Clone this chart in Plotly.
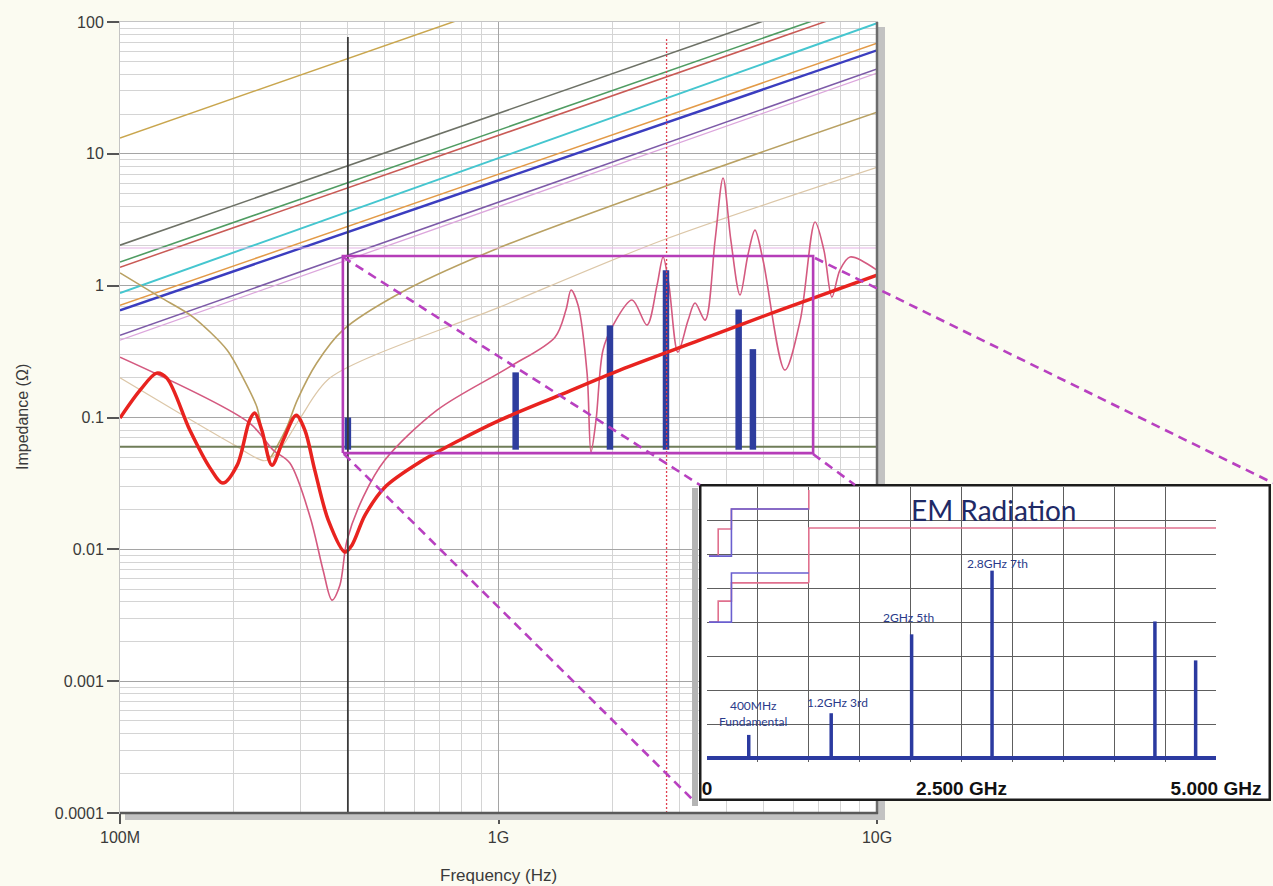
import plotly.graph_objects as go

# ---------------- data ----------------
# straight inductive-impedance lines: value at 100 MHz and at 10 GHz
ind_z_100M = [13.2, 2.03, 1.51, 1.38, 0.88, 0.71, 0.65, 0.42, 0.386]
ind_z_10G = [1320, 203, 151, 138, 98, 69, 61, 44, 41]
ind_f = [1.0e8, 1.0e10]

# capacitor-like resonance curve (tan)
tan_f = [1.0e8, 1.276e8, 1.56e8, 1.92e8, 2.11e8, 2.30e8, 2.39e8, 2.49e8, 2.61e8,
         2.76e8, 2.94e8, 3.31e8, 3.88e8, 5.5e8, 1.0e9, 3.0e9, 1.0e10]
tan_z = [1.25, 0.818, 0.578, 0.324, 0.202, 0.120, 0.071, 0.050, 0.0618,
         0.0845, 0.1355, 0.259, 0.46, 0.88, 1.93, 6.2, 20.7]

# faint light-tan resonance curve
lt_f = [1.0e8, 1.5e8, 2.0e8, 2.41e8, 2.62e8, 3.0e8, 3.59e8, 1.01e9, 2.7e9, 1.0e10]
lt_z = [0.20, 0.10, 0.062, 0.047, 0.055, 0.10, 0.20, 0.69, 2.2, 7.9]

# pink impedance curve (bare board)
pink_f = [1.0e8, 2.2e8, 2.54e8, 2.81e8, 3.18e8, 3.44e8, 3.63e8, 3.81e8, 3.98e8,
          4.39e8, 5.01e8, 6.88e8, 1.067e9, 1.41e9, 1.507e9, 1.555e9, 1.622e9,
          1.714e9, 1.755e9, 1.81e9, 1.888e9, 2.008e9, 2.254e9, 2.468e9, 2.624e9,
          2.722e9, 2.82e9, 2.978e9, 3.17e9, 3.305e9, 3.515e9, 3.735e9, 3.92e9,
          4.11e9, 4.345e9, 4.56e9, 4.76e9, 5.0e9, 5.71e9, 6.27e9, 6.86e9, 7.24e9,
          7.6e9, 7.98e9, 8.49e9, 1.0e10]
pink_z = [0.287, 0.0907, 0.0566, 0.0451, 0.01754, 0.00695, 0.00412, 0.00535, 0.01175,
          0.0249, 0.0475, 0.1138, 0.241, 0.407, 0.653, 0.927, 0.713,
          0.217, 0.0546, 0.0955, 0.324, 0.502, 0.778, 0.502, 1.01,
          1.65, 1.01, 0.313, 0.548, 0.738, 0.548, 2.22, 6.55,
          2.22, 0.849, 1.71, 2.64, 1.56, 0.229, 0.548, 3.04, 1.86,
          0.818, 1.31, 1.65, 1.31]

# red impedance curve (with decoupling)
red_f = [1.0e8, 1.13e8, 1.25e8, 1.33e8, 1.53e8, 1.73e8, 1.87e8, 2.04e8, 2.2e8,
         2.27e8, 2.37e8, 2.52e8, 2.7e8, 2.92e8, 3.08e8, 3.27e8, 3.55e8, 3.93e8,
         4.1e8, 4.44e8, 5.01e8, 6.2e8, 7.91e8, 1.009e9, 1.452e9, 2.093e9, 3.4e9,
         5.54e9, 1.0e10]
red_z = [0.099, 0.161, 0.217, 0.199, 0.080, 0.0413, 0.0318, 0.0435, 0.0955,
         0.108, 0.080, 0.0435, 0.0675, 0.104, 0.080, 0.0399, 0.01667, 0.00953,
         0.01076, 0.01815, 0.0296, 0.0459, 0.0675, 0.0955, 0.148, 0.229, 0.386,
         0.653, 1.20]

# harmonic bars in the main chart
bar_f = [4.0e8, 1.11e9, 1.97e9, 2.77e9, 4.31e9, 4.7e9]
bar_top = [0.10, 0.22, 0.50, 1.31, 0.66, 0.33]
bar_base = 0.057

target_z = 0.06          # target impedance line
limit_z = 1.93           # faint upper line
marker_black_f = 4.0e8   # fundamental cursor
marker_red_f = 2.78e9    # 7th harmonic cursor
cursor_top_z = 77

zoom_f = [3.88e8, 6.78e9]
zoom_z = [0.0537, 1.68]

# inset: EM radiation spectrum
em_f_ghz = [0.41, 1.22, 2.01, 2.80, 4.40, 4.80]
em_level = [0.68, 1.32, 3.65, 5.53, 4.03, 2.88]
em_labels = ["400MHz<br>Fundamental", "1.2GHz 3rd", "2GHz 5th", "2.8GHz 7th"]
em_label_x = [0.45, 1.28, 1.98, 2.85]
em_label_y = [1.30, 1.65, 4.16, 5.75]
em_span_ghz = [0.0, 5.0]

wave_pink_x = [0.02, 0.11, 0.11, 0.24, 0.24, 1.0, 1.0, None,
               1.0, 1.0, 5.0, None,
               0.02, 0.11, 0.11, 0.24, 0.24, 1.0]
wave_pink_y = [5.96, 5.96, 6.76, 6.76, 7.35, 7.35, 7.91, None,
               5.17, 6.79, 6.79, None,
               4.01, 4.01, 4.63, 4.63, 5.17, 5.17]
wave_blue_x = [0.02, 0.24, 0.24, 1.0, None, 0.02, 0.24, 0.24, 1.0]
wave_blue_y = [5.96, 5.96, 7.35, 7.35, None, 4.01, 4.01, 5.46, 5.46]

y_ticks = [1e-4, 1e-3, 1e-2, 1e-1, 1, 10, 100]
y_ticktext = ["0.0001", "0.001", "0.01", "0.1", "1", "10", "100"]
x_ticks = [1e8, 1e9, 1e10]
x_ticktext = ["100M", "1G", "10G"]

# ---------------- styles ----------------
ind_colors = ["#c9a64e", "#6d7166", "#4f9c62", "#c95a55", "#45c6cf",
              "#e39a47", "#3b3dbf", "#7d5aa8", "#dca6dc"]
ind_widths = [1.5, 1.6, 1.6, 1.5, 2.0, 1.5, 2.4, 1.6, 1.3]

W, H = 1273, 886
ML, MT, MB = 120, 22, 73
PW, PH = W - ML, H - MT - MB


def fx(px):
    return (px - ML) / PW


def fy(py):
    return (H - MB - py) / PH


fig = go.Figure()

for z0, z1, c, w in zip(ind_z_100M, ind_z_10G, ind_colors, ind_widths):
    fig.add_trace(go.Scatter(x=ind_f, y=[z0, z1], mode="lines",
                             line=dict(color=c, width=w)))

fig.add_trace(go.Scatter(x=lt_f, y=lt_z, mode="lines",
                         line=dict(color="#dcc7a8", width=1.2, shape="spline", smoothing=0.8)))
fig.add_trace(go.Scatter(x=tan_f, y=tan_z, mode="lines",
                         line=dict(color="#b9a163", width=1.6, shape="spline", smoothing=0.8)))
fig.add_trace(go.Scatter(x=[1e8, 1e10], y=[target_z, target_z], mode="lines",
                         line=dict(color="#6f7d58", width=1.8)))
fig.add_trace(go.Scatter(x=[1e8, 1e10], y=[limit_z, limit_z], mode="lines",
                         line=dict(color="#e6b3e6", width=1.2)))
fig.add_trace(go.Scatter(x=pink_f, y=pink_z, mode="lines",
                         line=dict(color="#d45a80", width=1.6, shape="spline", smoothing=0.9)))

bx, by = [], []
for f, t in zip(bar_f, bar_top):
    bx += [f, f, None]
    by += [bar_base, t, None]
fig.add_trace(go.Scatter(x=bx, y=by, mode="lines", line=dict(color="#2e3d9e", width=6.5)))

fig.add_trace(go.Scatter(x=red_f, y=red_z, mode="lines",
                         line=dict(color="#e8231f", width=3.5, shape="spline", smoothing=0.9)))

fig.add_trace(go.Scatter(x=[marker_black_f, marker_black_f], y=[1e-4, cursor_top_z], mode="lines",
                         line=dict(color="#3a3a3a", width=1.8)))
fig.add_trace(go.Scatter(x=[marker_red_f, marker_red_f], y=[1e-4, cursor_top_z], mode="lines",
                         line=dict(color="#e04050", width=1.3, dash="2px,2px")))

fig.add_trace(go.Scatter(x=[zoom_f[0], zoom_f[1], zoom_f[1], zoom_f[0], zoom_f[0]],
                         y=[zoom_z[0], zoom_z[0], zoom_z[1], zoom_z[1], zoom_z[0]],
                         mode="lines", line=dict(color="#b53db8", width=2.6)))

# inset background box (subplot 2)
fig.add_trace(go.Scatter(x=[0, 1, 1, 0, 0], y=[0, 0, 1, 1, 0], mode="lines",
                         fill="toself", fillcolor="white",
                         line=dict(color="#1c1c1c", width=5),
                         xaxis="x2", yaxis="y2"))

# inset content (subplot 3)
fig.add_trace(go.Scatter(x=wave_pink_x, y=wave_pink_y, mode="lines",
                         line=dict(color="#e0708e", width=1.6), xaxis="x3", yaxis="y3"))
fig.add_trace(go.Scatter(x=wave_blue_x, y=wave_blue_y, mode="lines",
                         line=dict(color="#6a5fcf", width=1.6), xaxis="x3", yaxis="y3"))
sx, sy = [], []
for f, l in zip(em_f_ghz, em_level):
    sx += [f, f, None]
    sy += [0, l, None]
fig.add_trace(go.Scatter(x=sx, y=sy, mode="lines", line=dict(color="#2b3aa0", width=3.5),
                         xaxis="x3", yaxis="y3"))
fig.add_trace(go.Scatter(x=em_span_ghz, y=[0, 0], mode="lines",
                         line=dict(color="#2b3aa0", width=4), xaxis="x3", yaxis="y3"))

tickfont = dict(family="Liberation Sans, Arial", size=16, color="#3a3a3a")
minor_x = [m * 10 ** e for e in (8, 9) for m in range(2, 10)]
minor_y = [m * 10.0 ** e for e in range(-4, 2) for m in range(2, 10)]

main_dom_x = [0, fx(877)]

fig.update_layout(
    width=W, height=H, autosize=False,
    margin=dict(l=ML, r=0, t=MT, b=MB, autoexpand=False),
    paper_bgcolor="#fbfbf1", plot_bgcolor="white",
    showlegend=False,
    xaxis=dict(type="log", range=[8, 10], domain=main_dom_x, anchor="y", automargin=False,
               tickvals=x_ticks, ticktext=x_ticktext, ticks="outside", ticklen=10,
               tickwidth=1.5, tickcolor="#555", tickfont=tickfont,
               showgrid=True, gridcolor="#a5a5a5", gridwidth=1,
               minor=dict(tickvals=minor_x, showgrid=True, gridcolor="#d4d4d4",
                          gridwidth=1, ticks=""),
               showline=True, linecolor="#c4c4c4", linewidth=1, mirror=True,
               zeroline=False),
    yaxis=dict(type="log", range=[-4, 2], domain=[0, 1], anchor="x", automargin=False,
               tickvals=y_ticks, ticktext=y_ticktext, ticks="outside", ticklen=12,
               tickwidth=1.5, tickcolor="#555", tickfont=tickfont,
               showgrid=True, gridcolor="#a5a5a5", gridwidth=1,
               minor=dict(tickvals=minor_y, showgrid=True, gridcolor="#d4d4d4",
                          gridwidth=1, ticks=""),
               showline=True, linecolor="#c4c4c4", linewidth=1, mirror=True,
               zeroline=False),
    xaxis2=dict(domain=[fx(699), fx(1271)], range=[0, 1], anchor="y2", automargin=False,
                visible=False, fixedrange=True),
    yaxis2=dict(domain=[fy(801), fy(484)], range=[0, 1], anchor="x2", automargin=False,
                visible=False, fixedrange=True),
    xaxis3=dict(domain=[fx(707), fx(1216)], range=em_span_ghz, anchor="y3", automargin=False,
                tickvals=[0, 2.5, 5], ticktext=["0", "2.500 GHz", "5.000 GHz"],
                ticks="", ticklabelstandoff=13,
                tickfont=dict(family="Liberation Sans, Arial", size=19, color="#111111",
                              weight="bold"),
                showgrid=True, gridcolor="#5e5e5e", gridwidth=1.3,
                minor=dict(dtick=0.5, showgrid=True, gridcolor="#5e5e5e", gridwidth=1.3),
                zeroline=False, showline=False),
    yaxis3=dict(domain=[fy(762), fy(487)], range=[-0.12, 8], anchor="x3", automargin=False,
                tickvals=list(range(0, 9)), showticklabels=False, ticks="",
                showgrid=True, gridcolor="#5e5e5e", gridwidth=1.3,
                zeroline=False, showline=False),
)

shapes = []
# main plot right / bottom dark borders with shadow
shapes.append(dict(type="rect", xref="paper", yref="paper", x0=fx(878), x1=fx(885),
                   y0=fy(484), y1=fy(27), fillcolor="#c2c2c2", line=dict(width=0), layer="above"))
shapes.append(dict(type="rect", xref="paper", yref="paper", x0=fx(878), x1=fx(885),
                   y0=fy(819), y1=fy(801), fillcolor="#c2c2c2", line=dict(width=0), layer="above"))
shapes.append(dict(type="rect", xref="paper", yref="paper", x0=fx(125), x1=fx(885),
                   y0=fy(820), y1=fy(814), fillcolor="#c2c2c2", line=dict(width=0), layer="above"))
shapes.append(dict(type="line", xref="paper", yref="paper", x0=fx(877), x1=fx(877),
                   y0=fy(484), y1=fy(22), line=dict(color="#6c6c6c", width=2.5), layer="above"))
shapes.append(dict(type="line", xref="paper", yref="paper", x0=fx(877), x1=fx(877),
                   y0=fy(814), y1=fy(801), line=dict(color="#6c6c6c", width=2.5), layer="above"))
shapes.append(dict(type="line", xref="paper", yref="paper", x0=fx(120), x1=fx(878),
                   y0=fy(813), y1=fy(813), line=dict(color="#5a5a5a", width=2.5), layer="above"))
# inset left shadow strip
shapes.append(dict(type="rect", xref="paper", yref="paper", x0=fx(692), x1=fx(698),
                   y0=fy(806), y1=fy(488), fillcolor="#b4b4b4", line=dict(width=0), layer="above"))
# dashed connectors from zoom rectangle to inset
dash = dict(color="#b840c0", width=2.6, dash="9px,6px")
for (x0, y0, x1, y1) in [(343, 257, 700, 485), (344, 454, 694, 801),
                         (815, 258, 1273, 483), (813, 454, 855, 485)]:
    shapes.append(dict(type="line", xref="paper", yref="paper", x0=fx(x0), y0=fy(y0),
                       x1=fx(x1), y1=fy(y1), line=dash, layer="above"))
fig.update_layout(shapes=shapes)

ann = [
    dict(text="Impedance (\u03a9)", xref="paper", yref="paper", x=fx(22), y=fy(417),
         textangle=-90, showarrow=False, xanchor="center", yanchor="middle",
         font=dict(family="Liberation Sans, Arial", size=16, color="#3a3a3a")),
    dict(text="Frequency (Hz)", xref="paper", yref="paper", x=fx(498), y=fy(876),
         showarrow=False, xanchor="center", yanchor="middle",
         font=dict(family="Liberation Sans, Arial", size=17, color="#3a3a3a")),
    dict(text="EM Radiation", xref="paper", yref="paper", x=fx(993), y=fy(510),
         showarrow=False, xanchor="center", yanchor="middle",
         font=dict(family="Lato, Open Sans", size=28, color="#1f2a66")),
]
for t, x, y in zip(em_labels, em_label_x, em_label_y):
    ann.append(dict(text=t, xref="x3", yref="y3", x=x, y=y, showarrow=False,
                    xanchor="center", yanchor="middle",
                    font=dict(family="Lato, Open Sans", size=12, color="#2a3a8a")))
fig.update_layout(annotations=ann)

fig.write_html(
    "out.html",
    config={"displayModeBar": False, "responsive": False},
    post_script="document.documentElement.style.margin='0';"
                "document.documentElement.style.overflow='hidden';"
                "document.body.style.margin='0';document.body.style.padding='0';"
                "document.body.style.overflow='hidden';",
)
